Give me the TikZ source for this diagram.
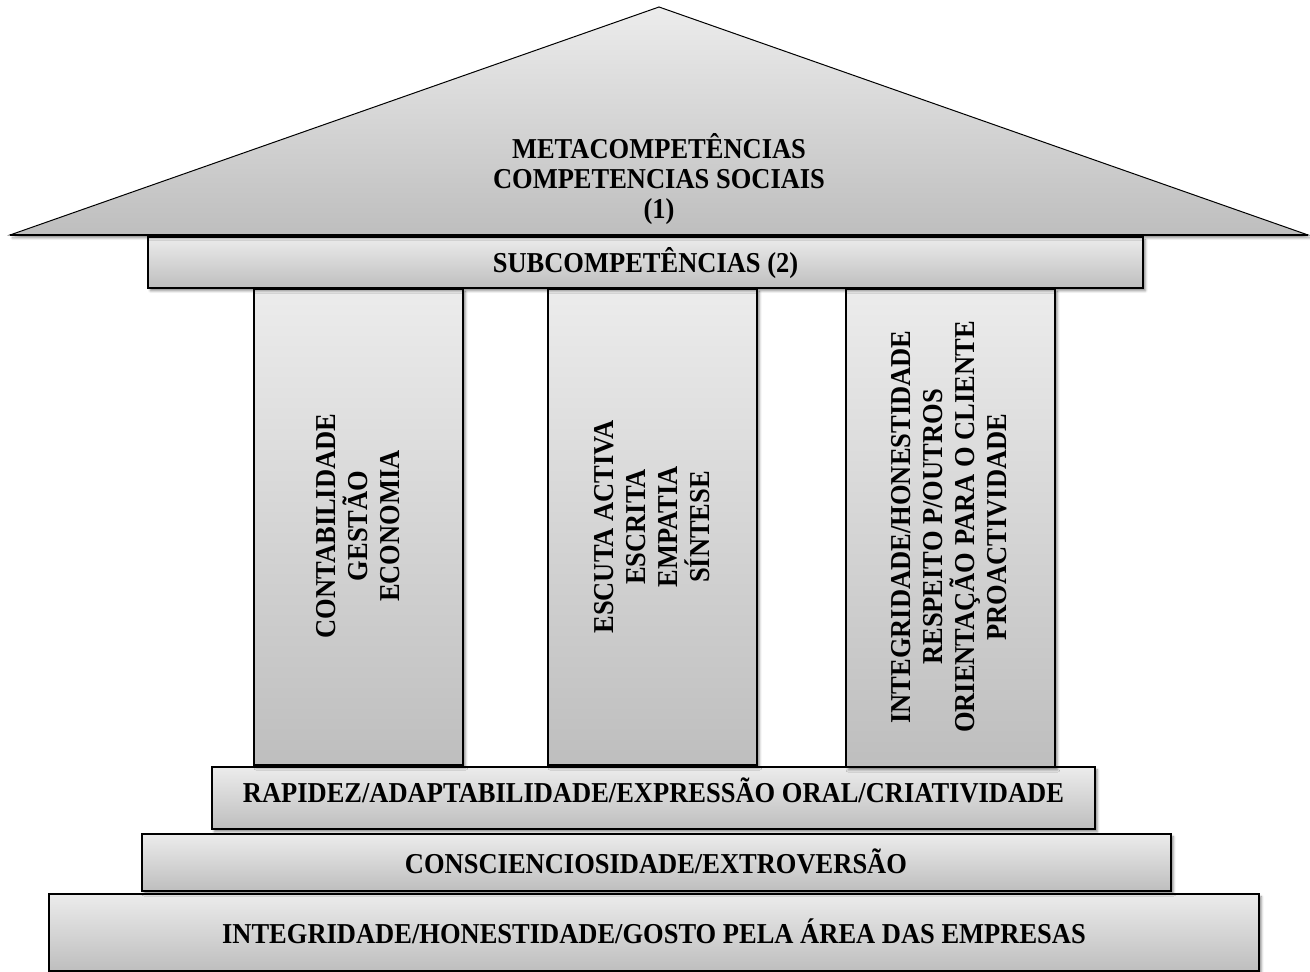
\documentclass[tikz,border=0pt]{standalone}
\usepackage{fontspec}
\setmainfont{Liberation Serif}[FakeStretch=0.92]
\usepackage{xcolor}
\usepackage{tikz}
\usetikzlibrary{shadows.blur}
\definecolor{cinzaClaro}{HTML}{ECECEC}
\definecolor{cinzaEscuro}{HTML}{BEBEBE}

\tikzset{
  bloco/.style={draw=black, line width=0.8pt, top color=cinzaClaro, bottom color=cinzaEscuro,
    blur shadow={shadow xshift=1.2pt, shadow yshift=-1.4pt, shadow blur radius=1.2pt, shadow opacity=45}},
  rotulo/.style={font=\fontsize{14.4}{16}\selectfont\bfseries, inner sep=0pt},
  coluna/.style={rotulo, rotate=90, align=center},
}

\begin{document}
\begin{tikzpicture}[x=0.5pt, y=-0.5pt]
  \useasboundingbox (0,0) rectangle (1310,972);
  % base
  \shade[bloco] (49,894) rectangle (1259,971);
  \node[rotulo, anchor=base] (gosto) at (654,943) {INTEGRIDADE/HONESTIDADE/GOSTO PELA ÁREA DAS EMPRESAS};
  \shade[bloco] (142,834) rectangle (1171,891);
  \node[rotulo, anchor=base] (consc) at (656,873) {CONSCIENCIOSIDADE/EXTROVERSÃO};
  \shade[bloco] (212,767) rectangle (1095,829);
  \node[rotulo, anchor=base] (rapidez) at (653.5,802) {RAPIDEZ/ADAPTABILIDADE/EXPRESSÃO ORAL/CRIATIVIDADE};
  % colunas
  \shade[bloco] (254,289) rectangle (463,765);
  \node[coluna] (colA) at (358.5,526) {CONTABILIDADE\\GESTÃO\\ECONOMIA};
  \shade[bloco] (548,289) rectangle (757,765);
  \node[coluna] (colB) at (652,527) {ESCUTA ACTIVA\\ESCRITA\\EMPATIA\\SÍNTESE};
  \shade[bloco] (846,289) rectangle (1055,767);
  \node[coluna] (colC) at (949,527) {INTEGRIDADE/HONESTIDADE\\RESPEITO P/OUTROS\\ORIENTAÇÃO PARA O CLIENTE\\PROACTIVIDADE};
  % telhado
  \shade[bloco] (148,237) rectangle (1143,288);
  \node[rotulo, anchor=base] (sub) at (645.5,273) {SUBCOMPETÊNCIAS (2)};
  \shade[bloco, line width=0.5pt] (10,235) -- (659,7) -- (1308,235) -- cycle;
  \draw[line width=1.2pt] (10,235) -- (1308,235);
  \node[rotulo, align=center, font=\fontsize{14.4}{15}\selectfont\bfseries] (meta) at (659,179)
    {METACOMPETÊNCIAS\\COMPETENCIAS SOCIAIS\\(1)};
\end{tikzpicture}
\end{document}
